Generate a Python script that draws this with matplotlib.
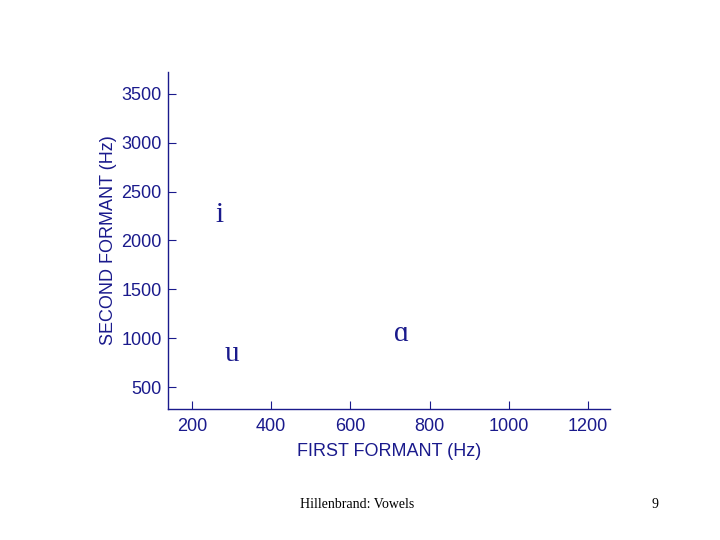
import matplotlib
matplotlib.use("Agg")
import matplotlib.pyplot as plt

vowels = ["i", "u", "\u0251"]
f1 = [270, 300, 730]
f2 = [2260, 840, 1045]
xticks = [200, 400, 600, 800, 1000, 1200]
yticks = [500, 1000, 1500, 2000, 2500, 3000, 3500]

navy = "#1a1a8c"
fig = plt.figure(figsize=(7.2, 5.4), dpi=100)
ax = fig.add_axes([0.2333, 0.2426, 0.8472 - 0.2333, 0.8667 - 0.2426])
ax.set_xlim(140, 1255)
ax.set_ylim(275, 3725)
for s in ["top", "right"]:
    ax.spines[s].set_visible(False)
for s in ["left", "bottom"]:
    ax.spines[s].set_color(navy)
    ax.spines[s].set_linewidth(1.0)
ax.set_xticks(xticks)
ax.set_yticks(yticks)
ax.tick_params(direction="in", length=6, color=navy, labelcolor=navy,
               labelsize=13)
ax.tick_params(axis="y", pad=4.5)
ax.tick_params(axis="x", pad=6.5)
for lab in ax.get_xticklabels() + ax.get_yticklabels():
    lab.set_family(["Liberation Sans", "DejaVu Sans"])
ax.set_xlabel("FIRST FORMANT (Hz)", color=navy, fontsize=13,
              family=["Liberation Sans", "DejaVu Sans"], labelpad=6)
ax.set_ylabel("SECOND FORMANT (Hz)", color=navy, fontsize=13,
              family=["Liberation Sans", "DejaVu Sans"], labelpad=3)

for v, x, y in zip(vowels, f1, f2):
    ax.text(x, y, v, ha="center", va="center", fontsize=21, color=navy,
            family=["Liberation Serif", "DejaVu Serif"])

fig.text(300 / 720, 1 - 504 / 540, "Hillenbrand: Vowels", ha="left", va="center",
         fontsize=10, family=["Liberation Serif", "DejaVu Serif"], color="black")
fig.text(655 / 720, 1 - 504 / 540, "9", ha="center", va="center",
         fontsize=10, family=["Liberation Serif", "DejaVu Serif"], color="black")

fig.savefig("out.png", dpi=100)
